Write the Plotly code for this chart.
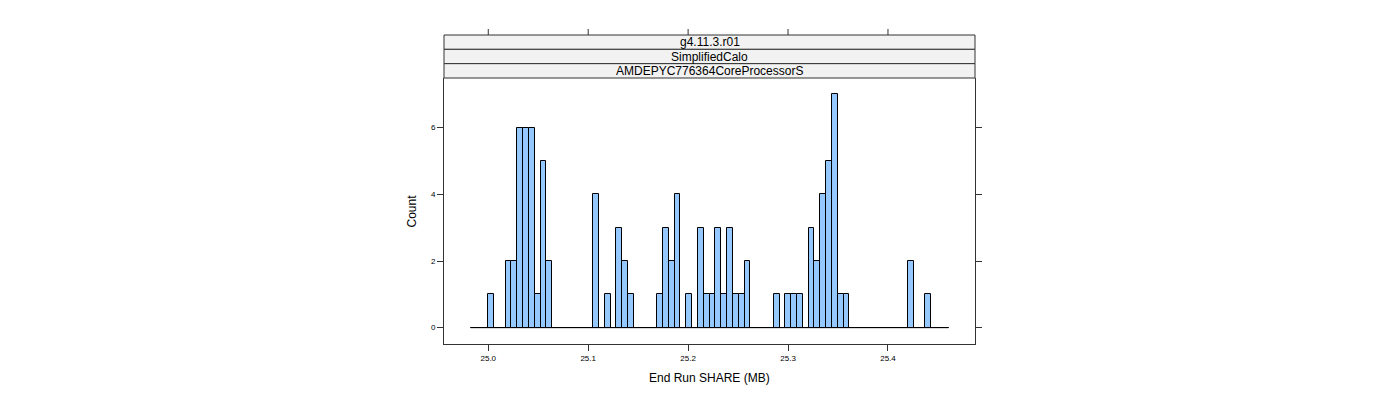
import plotly.graph_objects as go

# ---- data ----
bin_start = 24.98238          # lower edge of the first histogram bin (MB)
bin_width = 0.005832          # histogram bin width (MB)
counts = [0, 0, 0, 1, 0, 0, 2, 2, 6, 6, 6, 1, 5, 2, 0, 0, 0, 0, 0, 0,
          0, 4, 0, 1, 0, 3, 2, 1, 0, 0, 0, 0, 1, 3, 2, 4, 0, 1, 0, 3,
          1, 1, 3, 1, 3, 1, 1, 2, 0, 0, 0, 0, 1, 0, 1, 1, 1, 0, 3, 2,
          4, 5, 7, 1, 1, 0, 0, 0, 0, 0, 0, 0, 0, 0, 0, 2, 0, 0, 1, 0,
          0, 0]
x_ticks = [25.0, 25.1, 25.2, 25.3, 25.4]
y_ticks = [0, 2, 4, 6]
strip_labels = ["g4.11.3.r01", "SimplifiedCalo", "AMDEPYC776364CoreProcessorS"]
x_title = "End Run SHARE (MB)"
y_title = "Count"

centers = [bin_start + (i + 0.5) * bin_width for i in range(len(counts))]
edges_end = bin_start + len(counts) * bin_width

# ---- layout geometry (pixels, as seen on the page; page body has 8px margin) ----
W, H = 1400, 400
off = 8
left, right, top, bottom = 444 - off, 975 - off, 78 - off, 344 - off
plot_h = bottom - top
strip_h = 14.33
frame_col = "#333333"
font_family = "Liberation Sans, Arial, sans-serif"

fig = go.Figure()

# zero line spanning all bins (lattice draws empty bins as flat rects)
fig.add_trace(go.Scatter(
    x=[bin_start, edges_end], y=[0, 0], mode="lines",
    line=dict(color="black", width=1), hoverinfo="skip", showlegend=False))

fig.add_trace(go.Bar(
    x=centers, y=counts, width=bin_width,
    marker=dict(color="#94C8FF", line=dict(color="black", width=1)),
    showlegend=False))

shapes = []
annotations = []
n = len(strip_labels)
for k, lab in enumerate(strip_labels):
    level = n - 1 - k
    y0 = 1 + level * strip_h / plot_h
    y1 = 1 + (level + 1) * strip_h / plot_h
    shapes.append(dict(type="rect", xref="paper", yref="paper",
                       x0=0, x1=1, y0=y0, y1=y1,
                       fillcolor="#F2F2F2", line=dict(color=frame_col, width=1),
                       layer="below"))
    annotations.append(dict(text=lab, xref="paper", yref="paper",
                            x=0.5, y=(y0 + y1) / 2, showarrow=False,
                            xanchor="center", yanchor="middle",
                            font=dict(size=12, color="black", family=font_family)))

# top ticks above the strips
top_y = 1 + n * strip_h / plot_h
for t in x_ticks:
    shapes.append(dict(type="line", xref="x", yref="paper",
                       x0=t, x1=t, y0=top_y, y1=top_y + 6 / plot_h,
                       line=dict(color=frame_col, width=1)))

annotations.append(dict(text=x_title, xref="paper", yref="paper",
                        x=0.5, y=-(378 - 344) / plot_h, showarrow=False,
                        xanchor="center", yanchor="middle",
                        font=dict(size=12, color="black", family=font_family)))
annotations.append(dict(text=y_title, xref="paper", yref="paper",
                        x=-(444 - 411.5) / (right - left), y=0.5, showarrow=False,
                        textangle=-90, xanchor="center", yanchor="middle",
                        font=dict(size=12, color="black", family=font_family)))

fig.update_layout(
    width=W, height=H,
    margin=dict(l=left, r=W - right, t=top, b=H - bottom, pad=0),
    paper_bgcolor="white", plot_bgcolor="white",
    bargap=0, shapes=shapes, annotations=annotations,
    font=dict(family=font_family, color="black"),
)
fig.update_xaxes(
    range=[24.9557, 25.4871], tickvals=x_ticks, tickformat=".1f",
    ticks="outside", ticklen=6, tickcolor=frame_col, tickwidth=1,
    showline=True, linecolor=frame_col, linewidth=1, mirror=False,
    showgrid=False, zeroline=False, tickfont=dict(size=8, color="black"))
fig.update_yaxes(
    range=[-0.49, 7.49], tickvals=y_ticks,
    ticks="outside", ticklen=6, tickcolor=frame_col, tickwidth=1,
    showline=True, linecolor=frame_col, linewidth=1, mirror="ticks",
    showgrid=False, zeroline=False, tickfont=dict(size=8, color="black"))

fig.write_html("out.html")
